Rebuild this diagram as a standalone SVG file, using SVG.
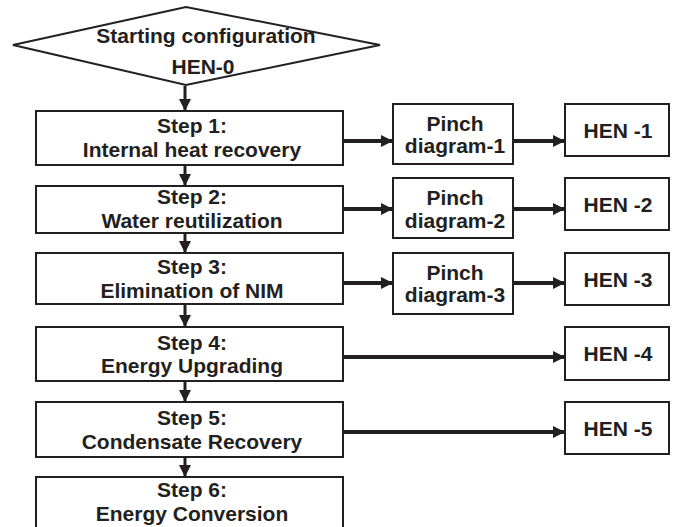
<svg xmlns="http://www.w3.org/2000/svg" width="674" height="527" viewBox="0 0 674 527">
<defs>
<style>
.box{fill:#fff;stroke:#231f20;stroke-width:2}
.t{font-family:"Liberation Sans",Arial,sans-serif;font-weight:bold;font-size:21px;fill:#231f20;text-anchor:middle}
.h{stroke:#231f20;stroke-width:4;fill:none}
.v{stroke:#231f20;stroke-width:3;fill:none}
</style>
<marker id="ah" markerUnits="userSpaceOnUse" markerWidth="12" markerHeight="12" viewBox="0 0 11 11" refX="11" refY="5.5" orient="auto">
<path d="M0,0 L11,5.5 L0,11 z" fill="#231f20"/>
</marker>
</defs>
<rect width="674" height="527" fill="#fff"/>
<g id="connectors">
<line class="v" x1="185" y1="86" x2="185" y2="111" marker-end="url(#ah)"/>
<line class="v" x1="185" y1="166" x2="185" y2="186" marker-end="url(#ah)"/>
<line class="v" x1="185" y1="234" x2="185" y2="253" marker-end="url(#ah)"/>
<line class="v" x1="185" y1="305" x2="185" y2="327" marker-end="url(#ah)"/>
<line class="v" x1="185" y1="382" x2="185" y2="402" marker-end="url(#ah)"/>
<line class="v" x1="185" y1="458" x2="185" y2="477" marker-end="url(#ah)"/>
<line class="h" x1="344" y1="141" x2="393" y2="141" marker-end="url(#ah)"/>
<line class="h" x1="514" y1="141" x2="565" y2="141" marker-end="url(#ah)"/>
<line class="h" x1="344" y1="209" x2="393" y2="209" marker-end="url(#ah)"/>
<line class="h" x1="514" y1="209" x2="565" y2="209" marker-end="url(#ah)"/>
<line class="h" x1="344" y1="283" x2="393" y2="283" marker-end="url(#ah)"/>
<line class="h" x1="514" y1="283" x2="565" y2="283" marker-end="url(#ah)"/>
<line class="h" x1="344" y1="357" x2="565" y2="357" marker-end="url(#ah)"/>
<line class="h" x1="344" y1="432" x2="565" y2="432" marker-end="url(#ah)"/>
</g>
<g id="start">
<polygon class="box" points="13,45 186,7 380,45 186,85"/>
<text class="t" x="206" y="43">Starting configuration</text>
<text class="t" x="203" y="74">HEN-0</text>
</g>
<g id="step1">
<rect class="box" x="36" y="111" width="307" height="54"/>
<text class="t" x="192" y="133">Step 1:</text>
<text class="t" x="192" y="157">Internal heat recovery</text>
</g>
<g id="step2">
<rect class="box" x="36" y="186" width="307" height="47"/>
<text class="t" x="192" y="204">Step 2:</text>
<text class="t" x="192" y="228">Water reutilization</text>
</g>
<g id="step3">
<rect class="box" x="36" y="253" width="307" height="51"/>
<text class="t" x="192" y="274">Step 3:</text>
<text class="t" x="192" y="298">Elimination of NIM</text>
</g>
<g id="step4">
<rect class="box" x="36" y="327" width="307" height="54"/>
<text class="t" x="192" y="350">Step 4:</text>
<text class="t" x="192" y="373">Energy Upgrading</text>
</g>
<g id="step5">
<rect class="box" x="36" y="402" width="307" height="55"/>
<text class="t" x="192" y="425">Step 5:</text>
<text class="t" x="192" y="449">Condensate Recovery</text>
</g>
<g id="step6">
<rect class="box" x="36" y="477" width="307" height="60"/>
<text class="t" x="192" y="497">Step 6:</text>
<text class="t" x="192" y="521">Energy Conversion</text>
</g>
<g id="pinch1">
<rect class="box" x="393" y="104" width="120" height="60"/>
<text class="t" x="455" y="131">Pinch</text>
<text class="t" x="455" y="153">diagram-1</text>
</g>
<g id="pinch2">
<rect class="box" x="393" y="178" width="120" height="60"/>
<text class="t" x="455" y="205">Pinch</text>
<text class="t" x="455" y="228">diagram-2</text>
</g>
<g id="pinch3">
<rect class="box" x="393" y="253" width="120" height="61"/>
<text class="t" x="455" y="280">Pinch</text>
<text class="t" x="455" y="302">diagram-3</text>
</g>
<g id="hen1">
<rect class="box" x="565" y="104" width="104" height="52"/>
<text class="t" x="618" y="138">HEN -1</text>
</g>
<g id="hen2">
<rect class="box" x="565" y="178" width="104" height="52"/>
<text class="t" x="618" y="212">HEN -2</text>
</g>
<g id="hen3">
<rect class="box" x="565" y="253" width="104" height="52"/>
<text class="t" x="618" y="287">HEN -3</text>
</g>
<g id="hen4">
<rect class="box" x="565" y="327" width="104" height="53"/>
<text class="t" x="618" y="361">HEN -4</text>
</g>
<g id="hen5">
<rect class="box" x="565" y="402" width="104" height="52"/>
<text class="t" x="618" y="436">HEN -5</text>
</g>
</svg>
